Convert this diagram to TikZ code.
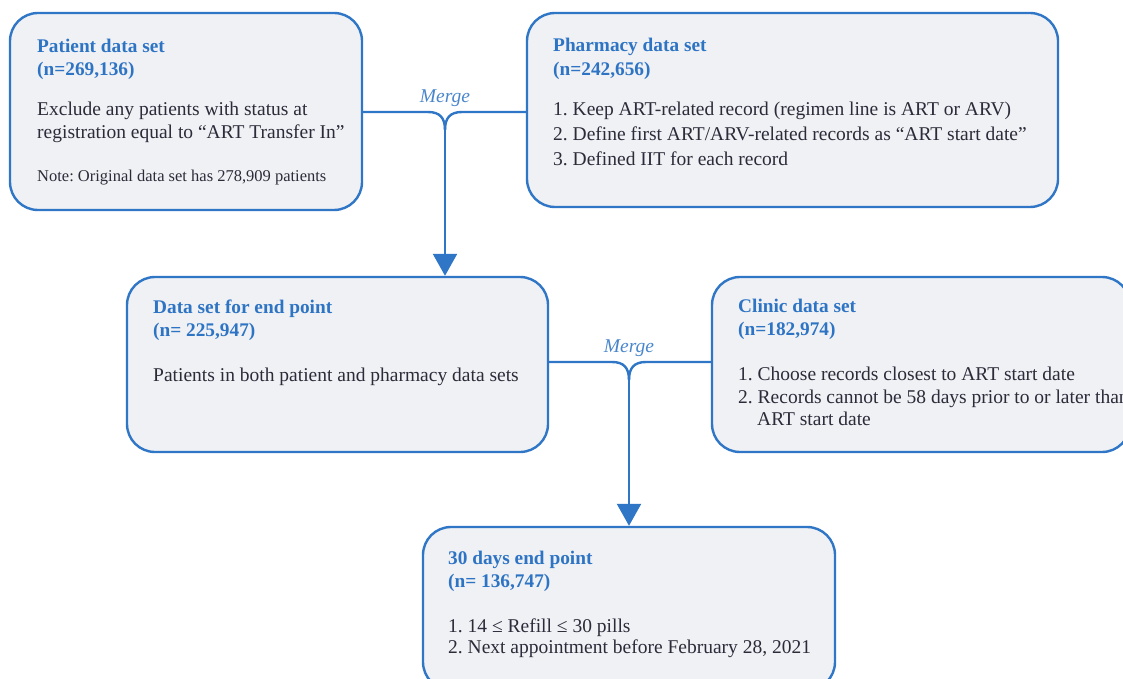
\documentclass[tikz,border=0pt]{standalone}
\usepackage{fontspec}
\setmainfont{Liberation Serif}
\usetikzlibrary{arrows.meta}
\frenchspacing
\definecolor{lineblue}{HTML}{2F76C6}
\definecolor{titleblue}{HTML}{2E74C4}
\definecolor{mergeblue}{HTML}{4A86CC}
\definecolor{boxfill}{HTML}{F0F1F4}
\definecolor{bodytext}{HTML}{2B2B3A}
\tikzset{
  databox/.style={draw=lineblue, line width=2.4pt, fill=boxfill, rounded corners=28pt, inner sep=0pt},
  ttl/.style={anchor=base west, inner sep=0pt, text=titleblue, font=\fontsize{19.3}{22}\selectfont\bfseries},
  txt/.style={anchor=base west, inner sep=0pt, text=bodytext, font=\fontsize{19.5}{22}\selectfont},
  note/.style={anchor=base west, inner sep=0pt, text=bodytext, font=\fontsize{16.5}{19}\selectfont},
  mrg/.style={anchor=base, inner sep=0pt, text=mergeblue, font=\fontsize{19.5}{22}\selectfont\itshape},
  conn/.style={draw=lineblue, line width=2.4pt},
  arr/.style={draw=lineblue, line width=2.4pt, -{Triangle[width=24pt,length=22pt]}}
}
\begin{document}
\begin{tikzpicture}[x=1pt,y=-1pt]
\useasboundingbox (0,0) rectangle (1123,679);
\clip (0,0) rectangle (1123,679);
% boxes
\node[databox, minimum width=352pt, minimum height=197pt] (patient) at (186,111.5) {};
\node[databox, minimum width=531pt, minimum height=194pt] (pharm) at (792.5,110) {};
\node[databox, minimum width=421pt, minimum height=175pt] (endp) at (337.5,364.5) {};
\node[databox, minimum width=418pt, minimum height=175pt] (clinic) at (921,364.5) {};
\node[databox, minimum width=412pt, minimum height=163pt] (days) at (629,608.5) {};
% patient text
\node[ttl] (pt1) at (37,52.5) {Patient data set};
\node[ttl] (pt2) at (37,75.5) {(n=269,136)};
\node[txt] (pb1) at (37,116) {Exclude any patients with status at};
\node[txt] (pb2) at (37,139) {registration equal to “ART Transfer In”};
\node[note] (pn) at (37,182) {Note: Original data set has 278,909 patients};
% pharmacy text
\node[ttl] (ht1) at (553,51.5) {Pharmacy data set};
\node[ttl] (ht2) at (553,75.5) {(n=242,656)};
\node[txt] (hb1) at (553,116) {1. Keep ART-related record (regimen line is ART or ARV)};
\node[txt] (hb2) at (553,141) {2. Define first ART/ARV-related records as “ART start date”};
\node[txt] (hb3) at (553,166) {3. Defined IIT for each record};
% end point text
\node[ttl] (et1) at (153,313.5) {Data set for end point};
\node[ttl] (et2) at (153,336.5) {(n= 225,947)};
\node[txt] (eb1) at (153,381) {Patients in both patient and pharmacy data sets};
% clinic text
\node[ttl] (ct1) at (738,312.5) {Clinic data set};
\node[ttl] (ct2) at (738,335.5) {(n=182,974)};
\node[txt] (cb1) at (738,380) {1. Choose records closest to ART start date};
\node[txt] (cb2) at (738,403) {2. Records cannot be 58 days prior to or later than};
\node[txt] (cb3) at (757,425) {ART start date};
% 30 days text
\node[ttl] (dt1) at (448,564.5) {30 days end point};
\node[ttl] (dt2) at (448,587.5) {(n= 136,747)};
\node[txt] (db1) at (448,632) {1. 14 ≤ Refill ≤ 30 pills};
\node[txt] (db2) at (448,653) {2. Next appointment before February 28, 2021};
% merge 1
\coordinate (j1) at (445,130);
\node[mrg] (m1) at (445,103) {Merge};
\draw[conn] (patient.east |- 0,112) -- (428,112) .. controls (440,112) and (445,118) .. (j1);
\draw[conn] (pharm.west |- 0,112) -- (462,112) .. controls (450,112) and (445,118) .. (j1);
\draw[arr] (j1) -- (endp.north -| j1);
% merge 2
\coordinate (j2) at (629,380);
\node[mrg] (m2) at (629,352) {Merge};
\draw[conn] (endp.east |- 0,362) -- (612,362) .. controls (624,362) and (629,368) .. (j2);
\draw[conn] (clinic.west |- 0,362) -- (646,362) .. controls (634,362) and (629,368) .. (j2);
\draw[arr] (j2) -- (days.north -| j2);
\end{tikzpicture}
\end{document}
